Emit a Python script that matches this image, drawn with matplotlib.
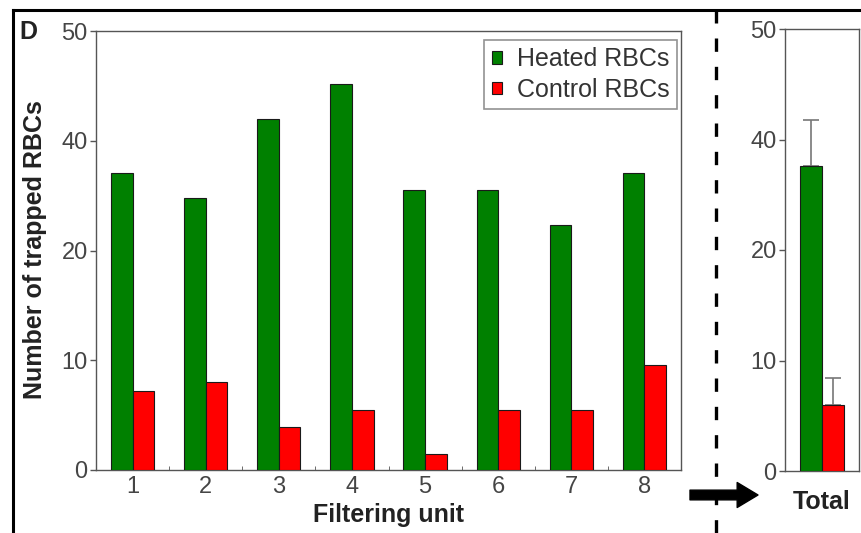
import numpy as np
import matplotlib
matplotlib.use('Agg')
import matplotlib.pyplot as plt
from matplotlib.lines import Line2D

plt.rcParams['font.family'] = ['Liberation Sans', 'DejaVu Sans']

# data
units = ['1', '2', '3', '4', '5', '6', '7', '8']
heated = [34.2, 29.5, 42.0, 45.2, 31.1, 31.1, 24.7, 34.2]
control = [7.2, 8.0, 3.9, 5.5, 1.5, 5.5, 5.5, 9.6]
total_heated = 35.2
total_heated_err = 6.6
total_control = 6.0
total_control_err = 2.4
y_ticks = [0, 10, 20, 40, 50]

GREEN = '#008000'
RED = '#ff0000'
GREY = '#555555'

# the axis is not linear: ticks 0,10,20,40,50 are evenly spaced
knots_v = [-1000, 0, 20, 40, 50, 1000]
knots_p = [-100, 0, 2, 3, 4, 99]
def fwd(v):
    return np.interp(v, knots_v, knots_p)
def inv(p):
    return np.interp(p, knots_p, knots_v)

def style_axes(ax):
    ax.set_yscale('function', functions=(fwd, inv))
    ax.set_ylim(0, 50)
    ax.set_yticks(y_ticks)
    ax.set_yticklabels([str(t) for t in y_ticks])
    for s in ax.spines.values():
        s.set_color(GREY)
        s.set_linewidth(1.0)
    ax.tick_params(axis='y', direction='out', length=4, width=1, color=GREY,
                   labelsize=17, labelcolor='#454545', pad=2)
    ax.tick_params(axis='x', which='major', length=0, labelsize=17,
                   labelcolor='#454545', pad=4)

fig = plt.figure(figsize=(8.61, 5.33), dpi=100)

# main panel
ax = fig.add_axes([96 / 861, 63 / 533, 585 / 861, 439 / 533])
x = np.arange(1, len(units) + 1)
w = 0.295
ax.bar(x - w / 2, heated, w, color=GREEN, edgecolor='#1a1a1a', linewidth=0.8,
       label='Heated RBCs', zorder=3)
ax.bar(x + w / 2, control, w, color=RED, edgecolor='#1a1a1a', linewidth=0.8,
       label='Control RBCs', zorder=3)
style_axes(ax)
ax.set_xlim(0.5, 8.5)
ax.set_xticks(x)
ax.set_xticklabels(units)
ax.set_xticks(np.arange(1.5, 8.5, 1), minor=True)
ax.tick_params(axis='x', which='minor', direction='in', length=3, color=GREY)
ax.set_xlabel('Filtering unit', fontsize=18, fontweight='bold', labelpad=4,
              color='#222222')
ax.legend(loc='upper right', bbox_to_anchor=(677 / 861, 1 - 40 / 533),
          bbox_transform=fig.transFigure, borderaxespad=0, fontsize=18,
          frameon=True, fancybox=False, edgecolor='#777777',
          handlelength=0.4, handleheight=0.4, handletextpad=0.6,
          labelspacing=0.25, borderpad=0.3)
leg = ax.get_legend()
leg.get_frame().set_linewidth(1.2)
for t in leg.get_texts():
    t.set_color('#333333')

# total panel
ax2 = fig.add_axes([785 / 861, 62 / 533, 74 / 861, 442 / 533])
ax2.bar([-w / 2], [total_heated], w, color=GREEN, edgecolor='#1a1a1a',
        linewidth=0.8, zorder=3)
ax2.bar([w / 2], [total_control], w, color=RED, edgecolor='#1a1a1a',
        linewidth=0.8, zorder=3)
ax2.errorbar([-w / 2, w / 2], [total_heated, total_control],
             yerr=[[0, 0], [total_heated_err, total_control_err]],
             fmt='none', ecolor='#777777', elinewidth=1.2, capsize=6,
             capthick=1.2, zorder=2)
style_axes(ax2)
ax2.set_xlim(-0.5, 0.5)
ax2.set_xticks([0])
ax2.set_xticklabels(['Total'], fontweight='bold', color='#222222', fontsize=18)
ax2.tick_params(axis='x', pad=14)

# labels and decorations
fig.text(35 / 861, 1 - 250 / 533, 'Number of trapped RBCs', rotation=90,
         ha='center', va='center', fontsize=18, fontweight='bold',
         color='#222222')
fig.text(28 / 861, 1 - 32 / 533, 'D', ha='center', va='center', fontsize=18,
         fontweight='bold', color='#222222')

fig.add_artist(Line2D([13 / 861, 1], [1 - 10 / 533, 1 - 10 / 533],
                      color='black', linewidth=2.2))
fig.add_artist(Line2D([13 / 861, 13 / 861], [0, 1 - 10 / 533],
                      color='black', linewidth=2.2))
fig.add_artist(Line2D([716 / 861, 716 / 861], [0, 1 - 10 / 533],
                      color='black', linewidth=2.4, dashes=(4, 4.5)))

ax.annotate('', xy=(758, 38), xycoords='figure pixels',
            xytext=(690, 38), textcoords='figure pixels',
            arrowprops=dict(arrowstyle='simple,head_length=15,head_width=18,tail_width=7',
                            mutation_scale=1, color='black',
                            shrinkA=0, shrinkB=0),
            annotation_clip=False)

fig.savefig('out.png', dpi=100)
